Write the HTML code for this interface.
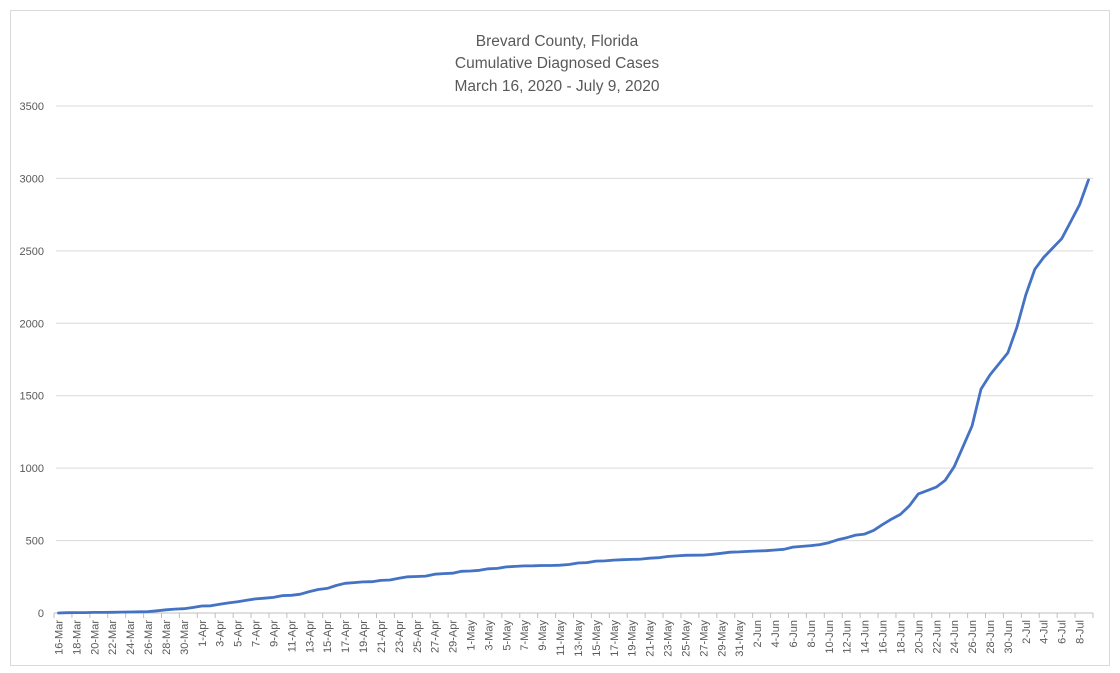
<!DOCTYPE html>
<html><head><meta charset="utf-8"><style>
html,body{margin:0;padding:0;background:#fff;}
svg{display:block;font-family:"Liberation Sans",sans-serif;}
</style></head><body>
<svg id="chart" width="1120" height="673" viewBox="0 0 1120 673">
<rect x="10.5" y="10.5" width="1099" height="655" fill="#fff" stroke="#d9d9d9"/>
<g fill="#595959" font-size="15.5" text-anchor="middle">
<text x="557" y="46">Brevard County, Florida</text>
<text x="557" y="68">Cumulative Diagnosed Cases</text>
<text x="557" y="91">March 16, 2020 - July 9, 2020</text>
</g>
<g id="grid"></g><g id="yaxis"></g><g id="xaxis"></g><g id="series"></g>
</svg>
<script>
const yTicks = [0,500,1000,1500,2000,2500,3000,3500];
const months = ["Mar","Apr","May","Jun","Jul"];
const monthDays = [31,30,31,30,31];
const cases = [0,2,3,3,4,4,5,6,7,8,10,15,22,27,30,38,48,50,60,70,78,88,97,102,108,120,122,130,148,162,170,190,205,210,215,216,225,228,240,250,252,255,268,272,275,288,290,295,305,308,318,322,325,326,328,328,330,335,345,348,358,360,365,368,370,372,378,382,390,394,398,399,400,405,412,420,422,425,428,430,435,440,455,460,465,472,485,505,520,538,545,570,610,648,681,740,822,845,869,916,1010,1150,1292,1546,1644,1720,1797,1973,2196,2373,2455,2520,2584,2700,2819,2990];
// categories: dates starting 16-Mar
const categories = [];
{let m=0,d=16;for(let i=0;i<cases.length;i++){categories.push(d+"-"+months[m]);d++;if(d>monthDays[m]){d=1;m++;}}}
const NS="http://www.w3.org/2000/svg";
const X0=54,X1=1093,Y0=613,Y1=106,YMAX=3500;
const step=(X1-X0)/categories.length;
const xs=i=>X0+(i+0.5)*step;
const ys=v=>Y0-(v/YMAX)*(Y0-Y1);
function mk(t,a,p){const e=document.createElementNS(NS,t);for(const k in a)e.setAttribute(k,a[k]);p.appendChild(e);return e;}
const grid=document.getElementById('grid'),ya=document.getElementById('yaxis'),xa=document.getElementById('xaxis'),se=document.getElementById('series');
yTicks.forEach(v=>{
  if(v>0){const l=mk('line',{x1:56,x2:X1,y1:ys(v),y2:ys(v),stroke:'#d9d9d9','stroke-width':1},grid);
  
  }
  const t=mk('text',{x:44,y:ys(v)+4,'text-anchor':'end','font-size':11,fill:'#595959'},ya);
  t.textContent=v;
  
  
});
const ax=mk('line',{x1:X0,x2:X1,y1:Y0,y2:Y0,stroke:'#bfbfbf','stroke-width':1},xa);


for(let i=0;i<=categories.length;i+=2){
  const tk=mk('line',{x1:X0+i*step,x2:X0+i*step,y1:Y0,y2:Y0+5,stroke:'#bfbfbf'},xa);
  
  
}
categories.forEach((c,i)=>{
  if(i%2)return;
  const x=xs(i)+4,y=620;
  const t=mk('text',{x:x,y:y,'text-anchor':'end','font-size':11,fill:'#595959',transform:`rotate(-90 ${x} ${y})`},xa);
  t.textContent=c;
  
  
});
const p=mk('polyline',{points:cases.map((v,i)=>xs(i).toFixed(1)+','+ys(v).toFixed(1)).join(' '),fill:'none',stroke:'#4472c4','stroke-width':2.8,'stroke-linejoin':'round','stroke-linecap':'round'},se);


</script>
</body></html>
